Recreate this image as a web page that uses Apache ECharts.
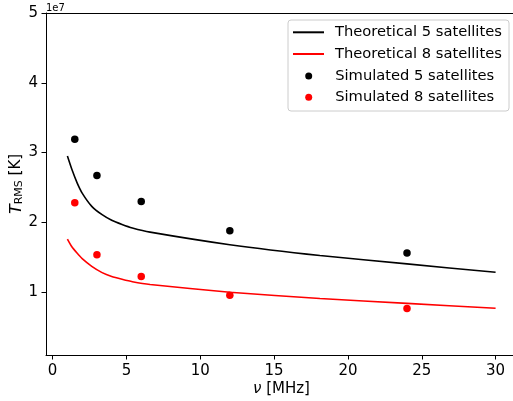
<!DOCTYPE html>
<html>
<head>
<meta charset="utf-8">
<script src="https://cdn.jsdelivr.net/npm/echarts@6/dist/echarts.min.js"></script>
<style>
html,body{margin:0;padding:0;background:#fff;}
#chart{width:513px;height:401px;}
</style>
</head>
<body>
<div id="chart"></div>
<script>
// Data (T in K, frequency in MHz)
const freqTheory = [1, 1.3, 1.65, 2, 2.65, 3.35, 4, 4.7, 5.4, 6.6, 12, 18.1, 24, 30];
const theory5 = [2.95e7, 2.76e7, 2.57e7, 2.42e7, 2.23e7, 2.11e7, 2.03e7, 1.97e7, 1.92e7, 1.86e7, 1.68e7, 1.525e7, 1.405e7, 1.285e7];
const theory8 = [1.76e7, 1.65e7, 1.56e7, 1.48e7, 1.37e7, 1.28e7, 1.225e7, 1.185e7, 1.15e7, 1.11e7, 1.0e7, 0.91e7, 0.84e7, 0.77e7];
const freqSim = [1.5, 3, 6, 12, 24];
const sim5 = [3.19e7, 2.67e7, 2.30e7, 1.88e7, 1.56e7];
const sim8 = [2.28e7, 1.535e7, 1.225e7, 0.957e7, 0.767e7];
const xTicks = [0, 5, 10, 15, 20, 25, 30];
const yTicks = [1e7, 2e7, 3e7, 4e7, 5e7];

const FONT = 'DejaVu Sans';
const pairs = (xs, ys) => xs.map((x, i) => [x, ys[i]]);
const LINE_ICON = 'path://M0,0L0,0M0,16L0,16M0,7L31,7L31,9L0,9Z';

const chart = echarts.init(document.getElementById('chart'), null, {renderer: 'canvas'});
chart.setOption({
  animation: false,
  backgroundColor: '#fff',
  textStyle: {fontFamily: FONT},
  grid: {left: 46, top: 13, width: 471, height: 342, show: false, containLabel: false, outerBoundsMode: 'none'},
  xAxis: [{
    type: 'value', min: -0.45, max: 31.45, position: 'bottom',
    axisLine: {show: true, onZero: false, lineStyle: {color: '#000', width: 1}},
    axisTick: {show: true, length: 4.5, customValues: xTicks, lineStyle: {color: '#000', width: 1}},
    axisLabel: {customValues: xTicks, color: '#000', fontSize: 15, fontFamily: FONT, margin: 9},
    splitLine: {show: false},
    name: '{v|ν} [MHz]', nameLocation: 'middle', nameGap: 27, nameMoveOverlap: false,
    nameTextStyle: {color: '#000', fontSize: 15, fontFamily: FONT, rich: {v: {fontStyle: 'italic', fontSize: 15, fontFamily: FONT, color: '#000'}}}
  }, {
    type: 'value', min: -0.45, max: 31.45, position: 'top',
    axisLine: {show: true, onZero: false, lineStyle: {color: '#000', width: 1}},
    axisTick: {show: false}, axisLabel: {show: false}, splitLine: {show: false}
  }],
  yAxis: {
    type: 'value', min: 1e6, max: 5e7,
    axisLine: {show: true, onZero: false, lineStyle: {color: '#000', width: 1}},
    axisTick: {show: true, length: 4.5, customValues: yTicks, lineStyle: {color: '#000', width: 1}},
    axisLabel: {customValues: yTicks, color: '#000', fontSize: 15, fontFamily: FONT, margin: 8, formatter: v => String(Math.round(v / 1e7))},
    splitLine: {show: false},
    name: '{t|T}{s|RMS} [K]', nameLocation: 'middle', nameGap: 21, nameRotate: 90, nameMoveOverlap: false,
    nameTextStyle: {color: '#000', fontSize: 15, fontFamily: FONT, rich: {
      t: {fontStyle: 'italic', fontSize: 16, fontFamily: FONT, color: '#000'},
      s: {fontSize: 11, fontFamily: FONT, color: '#000', padding: [6, 0, 0, 0]}
    }}
  },
  graphic: [
    {type: 'text', left: 46, top: 3, z: 10, style: {text: '1e7', fontSize: 10, fontFamily: FONT, fill: '#000'}},
    {type: 'rect', z: 3, shape: {x: 288, y: 20, width: 221, height: 91, r: 3}, style: {fill: 'rgba(255,255,255,0.8)', stroke: '#cccccc', lineWidth: 1}}
  ],
  legend: [
    {
      data: [{name: 'Theoretical 5 satellites', icon: LINE_ICON}, {name: 'Theoretical 8 satellites', icon: LINE_ICON}],
      orient: 'vertical', left: 293, top: 24.3, padding: 0, itemWidth: 31, itemHeight: 16, itemGap: 5.7, z: 5,
      textStyle: {color: '#000', fontSize: 14.7, fontFamily: FONT, lineHeight: 16, padding: [0, 0, 0, 6]}
    },
    {
      data: ['Simulated 5 satellites', 'Simulated 8 satellites'],
      orient: 'vertical', left: 305.2, top: 68, padding: 0, itemWidth: 7, itemHeight: 16, itemGap: 5.3, z: 5,
      textStyle: {color: '#000', fontSize: 14.7, fontFamily: FONT, lineHeight: 16, padding: [0, 0, 0, 18]}
    }
  ],
  series: [
    {name: 'Theoretical 5 satellites', type: 'line', data: pairs(freqTheory, theory5), symbol: 'none', showSymbol: false, smooth: 0.2, lineStyle: {color: '#000', width: 1.6}, itemStyle: {color: '#000'}, z: 2},
    {name: 'Theoretical 8 satellites', type: 'line', data: pairs(freqTheory, theory8), symbol: 'none', showSymbol: false, smooth: 0.2, lineStyle: {color: '#ff0000', width: 1.6}, itemStyle: {color: '#ff0000'}, z: 2},
    {name: 'Simulated 5 satellites', type: 'scatter', data: pairs(freqSim, sim5), symbol: 'circle', symbolSize: 7.5, itemStyle: {color: '#000', opacity: 1}, z: 3},
    {name: 'Simulated 8 satellites', type: 'scatter', data: pairs(freqSim, sim8), symbol: 'circle', symbolSize: 7.5, itemStyle: {color: '#ff0000', opacity: 1}, z: 3}
  ]
});
</script>
</body>
</html>
